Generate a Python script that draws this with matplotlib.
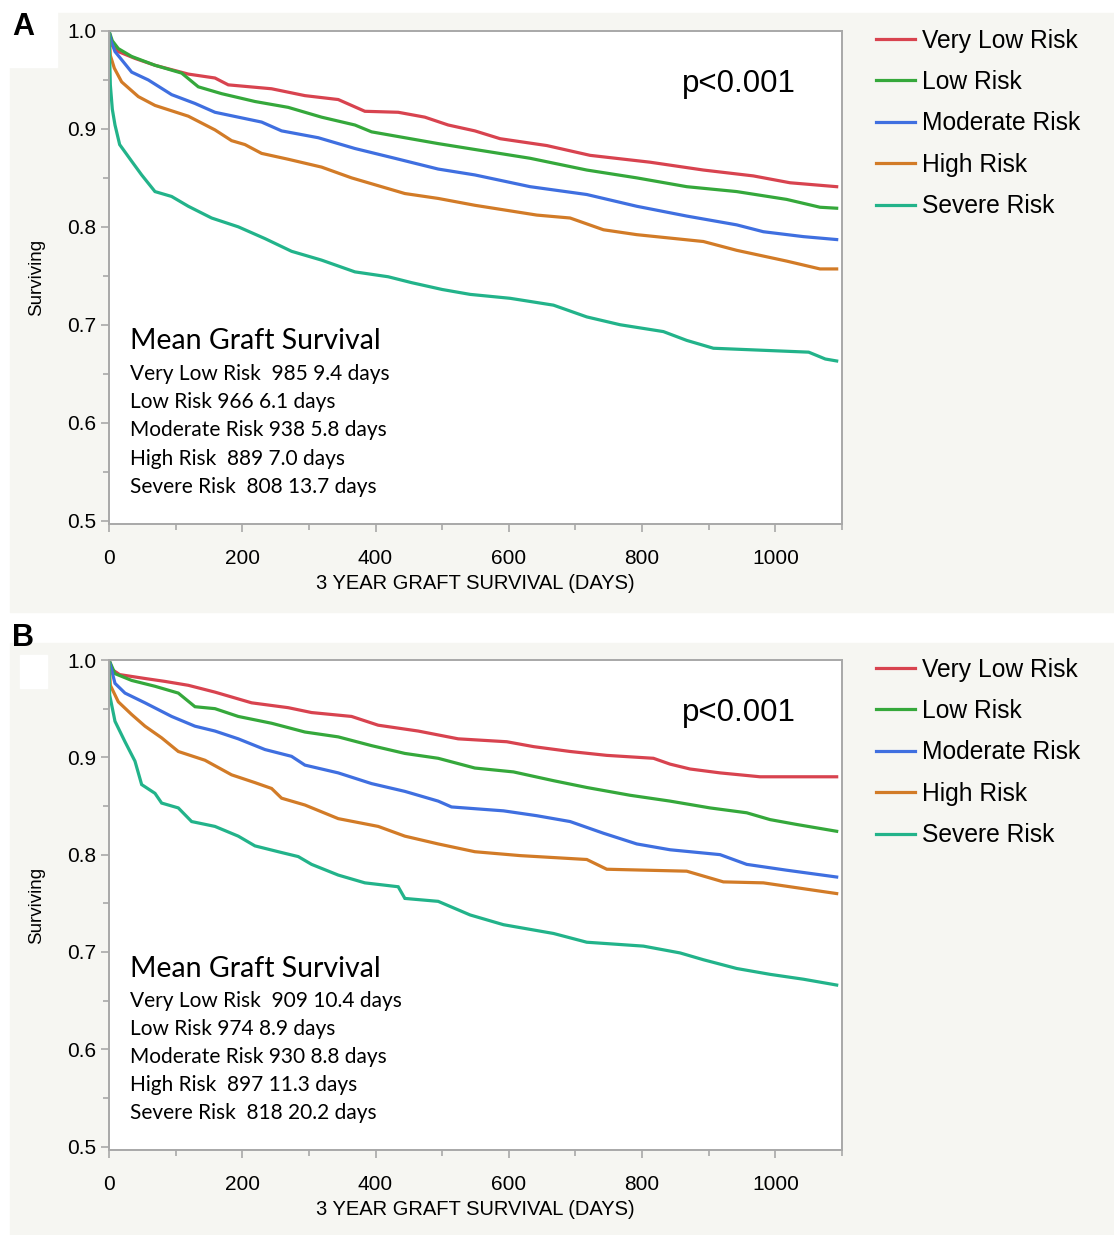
import matplotlib
matplotlib.use("Agg")
import matplotlib.pyplot as plt
from matplotlib.patches import Rectangle
from matplotlib.ticker import MultipleLocator

plt.rcParams['font.family'] = ['Liberation Sans', 'DejaVu Sans']

groups = ["Very Low Risk", "Low Risk", "Moderate Risk", "High Risk", "Severe Risk"]
colors = ["#d8434f", "#35a83b", "#3f6fe0", "#d27b27", "#22b38a"]

# panel A curves (days, surviving fraction)
a_vlow_d = [0, 5, 14, 39, 69, 119, 159, 179, 244, 294, 344, 384, 434, 474, 509, 549, 587, 657, 722, 812, 892, 967, 1022, 1092]
a_vlow_s = [1.0, 0.985, 0.979, 0.972, 0.965, 0.956, 0.952, 0.945, 0.941, 0.934, 0.930, 0.918, 0.917, 0.912, 0.904, 0.898, 0.890, 0.883, 0.873, 0.866, 0.858, 0.852, 0.845, 0.841]
a_low_d = [0, 5, 14, 34, 69, 109, 134, 169, 219, 269, 319, 369, 394, 444, 494, 549, 632, 717, 792, 867, 942, 1017, 1067, 1092]
a_low_s = [1.0, 0.99, 0.982, 0.974, 0.965, 0.957, 0.943, 0.936, 0.928, 0.922, 0.912, 0.904, 0.897, 0.891, 0.885, 0.879, 0.870, 0.858, 0.850, 0.841, 0.836, 0.828, 0.820, 0.819]
a_mod_d = [0, 3, 9, 34, 59, 94, 129, 159, 194, 229, 259, 314, 369, 429, 494, 549, 632, 717, 792, 867, 942, 982, 1042, 1092]
a_mod_s = [1.0, 0.99, 0.979, 0.958, 0.950, 0.935, 0.926, 0.917, 0.912, 0.907, 0.898, 0.891, 0.880, 0.870, 0.859, 0.853, 0.841, 0.833, 0.821, 0.811, 0.802, 0.795, 0.790, 0.787]
a_high_d = [0, 2, 8, 19, 44, 69, 119, 159, 184, 204, 229, 269, 319, 364, 394, 444, 494, 549, 642, 692, 742, 792, 892, 942, 1017, 1067, 1092]
a_high_s = [1.0, 0.975, 0.962, 0.948, 0.933, 0.924, 0.913, 0.899, 0.888, 0.884, 0.875, 0.869, 0.861, 0.850, 0.844, 0.834, 0.829, 0.822, 0.812, 0.809, 0.797, 0.792, 0.785, 0.776, 0.765, 0.757, 0.757]
a_sev_d = [0, 2, 5, 9, 16, 34, 49, 69, 94, 119, 154, 194, 234, 274, 319, 369, 419, 454, 500, 542, 602, 667, 717, 767, 832, 867, 907, 1050, 1075, 1092]
a_sev_s = [1.0, 0.945, 0.92, 0.904, 0.884, 0.867, 0.853, 0.836, 0.831, 0.821, 0.809, 0.800, 0.788, 0.775, 0.766, 0.754, 0.749, 0.743, 0.736, 0.731, 0.727, 0.720, 0.708, 0.700, 0.693, 0.684, 0.676, 0.672, 0.665, 0.663]

# panel B curves
b_vlow_d = [0, 5, 16, 54, 84, 119, 159, 184, 214, 269, 304, 364, 404, 464, 524, 597, 637, 692, 747, 817, 842, 872, 917, 977, 1092]
b_vlow_s = [1.0, 0.99, 0.985, 0.981, 0.978, 0.974, 0.967, 0.962, 0.956, 0.951, 0.946, 0.942, 0.933, 0.927, 0.919, 0.916, 0.911, 0.906, 0.902, 0.899, 0.893, 0.888, 0.884, 0.880, 0.880]
b_low_d = [0, 9, 34, 69, 104, 129, 159, 194, 244, 294, 344, 394, 444, 494, 549, 607, 667, 717, 782, 842, 902, 957, 992, 1032, 1092]
b_low_s = [1.0, 0.986, 0.979, 0.973, 0.966, 0.952, 0.950, 0.942, 0.935, 0.926, 0.921, 0.912, 0.904, 0.899, 0.889, 0.885, 0.876, 0.869, 0.861, 0.855, 0.848, 0.843, 0.836, 0.831, 0.824]
b_mod_d = [0, 9, 24, 54, 94, 129, 159, 194, 234, 274, 294, 344, 394, 444, 494, 514, 592, 642, 692, 742, 792, 842, 917, 957, 1017, 1092]
b_mod_s = [1.0, 0.976, 0.966, 0.956, 0.942, 0.932, 0.927, 0.919, 0.908, 0.901, 0.892, 0.884, 0.873, 0.865, 0.855, 0.849, 0.845, 0.840, 0.834, 0.822, 0.811, 0.805, 0.800, 0.790, 0.784, 0.777]
b_high_d = [0, 2, 14, 34, 54, 79, 104, 144, 184, 219, 244, 259, 294, 344, 404, 444, 494, 549, 617, 717, 747, 867, 922, 982, 1042, 1092]
b_high_s = [1.0, 0.974, 0.957, 0.944, 0.932, 0.920, 0.906, 0.897, 0.882, 0.874, 0.868, 0.858, 0.851, 0.837, 0.829, 0.819, 0.811, 0.803, 0.799, 0.795, 0.785, 0.783, 0.772, 0.771, 0.765, 0.760]
b_sev_d = [0, 1, 9, 24, 39, 49, 69, 79, 104, 124, 159, 194, 219, 254, 284, 304, 344, 384, 434, 444, 494, 542, 592, 667, 717, 802, 857, 892, 942, 992, 1042, 1092]
b_sev_s = [1.0, 0.964, 0.937, 0.916, 0.896, 0.872, 0.863, 0.853, 0.848, 0.834, 0.829, 0.819, 0.809, 0.803, 0.798, 0.790, 0.779, 0.771, 0.767, 0.755, 0.752, 0.738, 0.728, 0.719, 0.710, 0.706, 0.699, 0.692, 0.683, 0.677, 0.672, 0.666]

a_notes = ["Very Low Risk  985 9.4 days", "Low Risk 966 6.1 days", "Moderate Risk 938 5.8 days",
           "High Risk  889 7.0 days", "Severe Risk  808 13.7 days"]
b_notes = ["Very Low Risk  909 10.4 days", "Low Risk 974 8.9 days", "Moderate Risk 930 8.8 days",
           "High Risk  897 11.3 days", "Severe Risk  818 20.2 days"]

W, H = 1114, 1235
fig = plt.figure(figsize=(W / 100, H / 100), dpi=100)
bg = "#f6f6f2"

def px_rect(x0, y0, x1, y1, color, z):
    fig.patches.append(Rectangle((x0 / W, 1 - y1 / H), (x1 - x0) / W, (y1 - y0) / H,
                                 transform=fig.transFigure, color=color, zorder=z))

px_rect(10, 13, W, 612, bg, -3)
px_rect(0, 0, 57, 67, "white", -2)
px_rect(10, 643, W, H, bg, -3)
px_rect(20, 655, 47, 688, "white", -2)

def panel(top, bottom, curves, notes, letter, letter_y):
    ax = fig.add_axes([109 / W, 1 - bottom / H, 733 / W, (bottom - top) / H])
    ax.set_facecolor("white")
    for (d, s), c, g in zip(curves, colors, groups):
        ax.plot(d, s, color=c, lw=2.3, label=g, solid_joinstyle="miter")
    ax.set_xlim(0, 1100)
    ax.set_ylim(0.4965, 1.0)
    ax.xaxis.set_major_locator(MultipleLocator(200))
    ax.xaxis.set_minor_locator(MultipleLocator(100))
    ax.yaxis.set_major_locator(MultipleLocator(0.1))
    ax.yaxis.set_minor_locator(MultipleLocator(0.05))
    ax.yaxis.set_major_formatter(matplotlib.ticker.FormatStrFormatter("%.1f"))
    for sp in ax.spines.values():
        sp.set_color("#a8a8a8")
        sp.set_linewidth(1.4)
    ax.tick_params(which="major", length=6, width=1.2, color="#a8a8a8", labelsize=15)
    ax.tick_params(which="minor", length=4, width=1.2, color="#a8a8a8")
    ax.tick_params(axis="x", which="major", pad=12)
    ax.tick_params(axis="y", which="major", pad=3)
    ax.set_xlabel("3 YEAR GRAFT SURVIVAL (DAYS)", fontsize=14.5, labelpad=4)
    ax.set_ylabel("Surviving", fontsize=13.5, labelpad=16)
    ax.text(1030, 0.946, "p<0.001", fontsize=22.5, ha="right", va="center")
    ax.text(31, 0.683, "Mean Graft Survival", fontsize=20.5, family=["Lato", "DejaVu Sans"], va="center")
    for i, t in enumerate(notes):
        ax.text(31, 0.650 - i * 0.0289, t, fontsize=15, family=["Lato", "DejaVu Sans"], va="center")
    ax.legend(loc="upper left", bbox_to_anchor=(1.046, 1.005), frameon=False, fontsize=17.7,
              handlelength=1.6, handletextpad=0.3, labelspacing=0.71, borderpad=0, borderaxespad=0)
    fig.text(23 / W, 1 - letter_y / H, letter, fontsize=22, fontweight="bold", ha="center", va="center", zorder=3)
    return ax

panel(31, 524, [(a_vlow_d, a_vlow_s), (a_low_d, a_low_s), (a_mod_d, a_mod_s), (a_high_d, a_high_s), (a_sev_d, a_sev_s)],
      a_notes, "A", 27)
panel(660, 1150, [(b_vlow_d, b_vlow_s), (b_low_d, b_low_s), (b_mod_d, b_mod_s), (b_high_d, b_high_s), (b_sev_d, b_sev_s)],
      b_notes, "B", 638)

fig.savefig("out.png", dpi=100)
